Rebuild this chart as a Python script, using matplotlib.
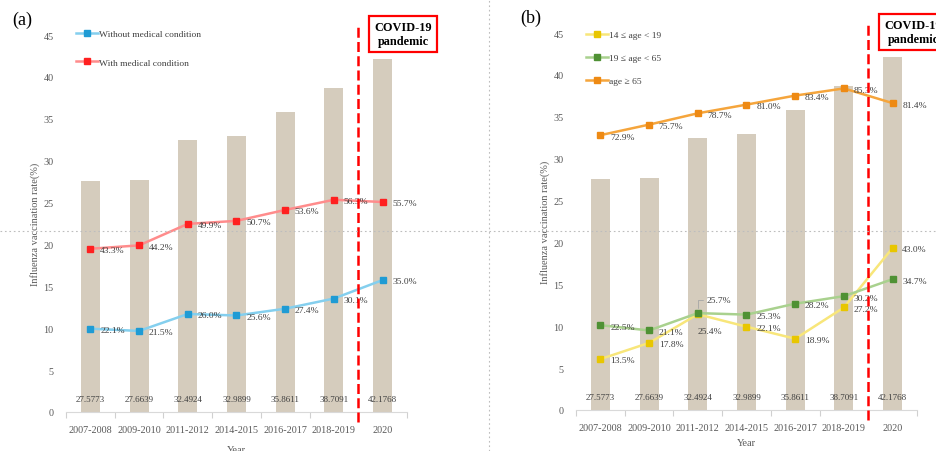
# Influenza vaccination rate, two panels
import matplotlib
matplotlib.use("Agg")
import matplotlib.pyplot as plt
from matplotlib.lines import Line2D

plt.rcParams['font.family'] = ['Liberation Serif', 'DejaVu Serif']

# data
years = ['2007-2008', '2009-2010', '2011-2012', '2014-2015', '2016-2017', '2018-2019', '2020']
bar_vals = [27.5773, 27.6639, 32.4924, 32.9899, 35.8611, 38.7091, 42.1768]
no_cond = [22.1, 21.5, 26.0, 25.6, 27.4, 30.1, 35.0]
with_cond = [43.3, 44.2, 49.9, 50.7, 53.6, 56.3, 55.7]
age_14_19 = [13.5, 17.8, 25.4, 22.1, 18.9, 27.2, 43.0]
age_19_65 = [22.5, 21.1, 25.7, 25.3, 28.2, 30.2, 34.7]
age_65 = [72.9, 75.7, 78.7, 81.0, 83.4, 85.3, 81.4]
y_ticks = [0, 5, 10, 15, 20, 25, 30, 35, 40, 45]

BAR_C = '#D5CCBD'
TXT_C = '#404040'
TICK_C = '#595959'

W, H = 937, 452
fig = plt.figure(figsize=(W / 100, H / 100), dpi=100)

# guide lines of the page (dotted grey)
fig.add_artist(Line2D([0, 1], [1 - 231.5 / H, 1 - 231.5 / H], transform=fig.transFigure,
                      color='#BDBDBD', lw=0.8, ls=(0, (1.5, 2.5))))
fig.add_artist(Line2D([489 / W, 489 / W], [0, 1], transform=fig.transFigure,
                      color='#BDBDBD', lw=0.8, ls=(0, (1.5, 2.5))))


def panel(left_px, bottom_px, top_px, tag, tag_xy, series, leg_anchor, leg_space, xlab_y):
    ax = fig.add_axes([left_px / W, 1 - bottom_px / H, 341 / W, (bottom_px - top_px) / H])
    x = list(range(len(years)))
    ax.bar(x, bar_vals, width=0.39, color=BAR_C, zorder=1)
    for i, v in enumerate(bar_vals):
        ax.text(i, 1.5, f'{v:.4f}', ha='center', va='center', fontsize=6.5, color=TXT_C, zorder=3)
    ax.set_xlim(-0.5, len(years) - 0.5)
    ax.set_ylim(0, 45)
    ax.set_yticks(y_ticks)
    ax.tick_params(axis='y', length=0, pad=9, labelsize=7.3, labelcolor=TICK_C)
    ax.set_xticks(x)
    ax.set_xticklabels(years)
    ax.tick_params(axis='x', which='major', length=0, pad=9.5, labelsize=7.3, labelcolor=TICK_C)
    ax.set_xticks([i - 0.5 for i in range(len(years) + 1)], minor=True)
    ax.tick_params(axis='x', which='minor', length=4, color='#D0D0D0', width=0.8)
    for s in ['top', 'right', 'left']:
        ax.spines[s].set_visible(False)
    ax.spines['bottom'].set_color('#D9D9D9')
    ax.set_ylabel('Influenza vaccination rate(%)', fontsize=7.5, color=TICK_C)
    ax.yaxis.set_label_coords(-0.077, 0.5)
    ax.set_xlabel('Year', fontsize=7.5, color=TICK_C)
    ax.xaxis.set_label_coords(0.5, xlab_y)

    # percentage lines on a hidden 0-100 scale
    ax2 = ax.twinx()
    ax2.set_ylim(0, 100)
    ax2.axis('off')
    for name, vals, lc, mc, special in series:
        ax2.plot(x, vals, color=lc, lw=1.8, marker='s', ms=5, mfc=mc, mec=mc, label=name, zorder=3)
        for i, v in enumerate(vals):
            if i in special and special[i] == 'below':
                ax2.annotate(f'{v:.1f}%', (i, v), xytext=(8.5, -12), textcoords='offset points',
                             ha='center', va='center', fontsize=6.8, color=TXT_C)
            elif i in special and special[i] == 'leader':
                ax2.annotate(f'{v:.1f}%', (i, v), xytext=(6.5, 9.5), textcoords='offset points',
                             ha='left', va='center', fontsize=6.8, color=TXT_C,
                             arrowprops=dict(arrowstyle='-', color='#A6A6A6', lw=0.6,
                                             connectionstyle='angle,angleA=0,angleB=90',
                                             relpos=(0, 0.5), shrinkA=1, shrinkB=4))
            else:
                ax2.annotate(f'{v:.1f}%', (i, v), xytext=(7, -1), textcoords='offset points',
                             ha='left', va='center', fontsize=6.8, color=TXT_C)

    # pandemic marker
    ax2.axvline(5.5, ymin=-0.027, ymax=1.032, color='#FF0000', lw=1.8, dashes=(4, 1.7),
                clip_on=False, zorder=5)
    ax2.text(6.42, 100.3, 'COVID-19\npandemic', ha='center', va='center', fontsize=8.8,
             fontweight='bold', color='black', linespacing=1.15, clip_on=False, zorder=6,
             bbox=dict(boxstyle='square,pad=0.45', fc='white', ec='#FF0000', lw=1.6))

    leg = ax2.legend(loc='upper left', bbox_to_anchor=leg_anchor, frameon=False, fontsize=6.8,
                     handlelength=2.3, handletextpad=0.1, labelspacing=leg_space, borderpad=0,
                     borderaxespad=0)
    for t in leg.get_texts():
        t.set_color(TXT_C)

    fig.text(tag_xy[0] / W, 1 - tag_xy[1] / H, tag, fontsize=13, ha='left', va='center')
    return ax


panel(66, 413, 36, '(a)', (12, 20),
      [('Without medical condition', no_cond, '#84CFEE', '#1F9BD4', {}),
       ('With medical condition', with_cond, '#FF8C8C', '#FF2020', {})],
      (0.03, 1.014), 2.1, -0.088)

panel(576, 411, 34, '(b)', (520, 18),
      [('14 \u2264 age < 19', age_14_19, '#F8E67A', '#E8C600', {2: 'below'}),
       ('19 \u2264 age < 65', age_19_65, '#A9D18E', '#4F9134', {2: 'leader'}),
       ('age \u2265 65', age_65, '#F5A53C', '#EE8A14', {})],
      (0.03, 1.007), 1.55, -0.074)

plt.savefig('out.png', dpi=100)
